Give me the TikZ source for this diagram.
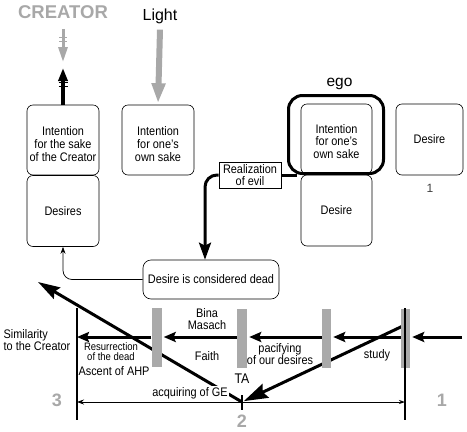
\documentclass[tikz,border=0pt]{standalone}
\usepackage{fontspec}
\setmainfont{Liberation Sans}[FakeStretch=0.88]
\newfontfamily\widefont{Liberation Sans}
\usetikzlibrary{arrows.meta,calc}
\definecolor{barg}{HTML}{AAAAAA}
\definecolor{numg}{HTML}{A8A8A8}
\newcommand\fsm{\fontsize{12.4}{12.7}\selectfont}
\newcommand\fsx{\fontsize{10.8}{10.2}\selectfont}
\begin{document}
\begin{tikzpicture}[x=1pt,y=-1pt,
  box/.style={draw,rounded corners=6,line width=0.6,minimum width=72,minimum height=70,align=center,font=\fsm,inner sep=0},
  bar/.style={fill=barg,minimum width=10,minimum height=59,inner sep=0},
  lbl/.style={font=\fsm,align=center,inner sep=0},
  slbl/.style={font=\fsx,align=center,inner sep=0},
  num/.style={font=\widefont\fontsize{18}{20}\selectfont\bfseries,text=numg,inner sep=0},
  thick arrow/.style={line width=3,-{Stealth[length=12,width=10,inset=2]}},
  tick/.style={line width=0.8}]
\useasboundingbox (0,0) rectangle (467,432);

% top labels
\node[font=\widefont\fontsize{18.5}{20}\selectfont\bfseries,text=numg,inner sep=0] (creator) at (63,12) {CREATOR};
\node[font=\widefont\fontsize{16}{18}\selectfont,inner sep=0] (light) at (160,16) {Light};

% boxes
\node[box,label={[lbl,yshift=-4pt]center:Intention\\for the sake\\of the Creator}] (int1) at (63,140) {};
\node[box,minimum height=71] (des1) at (63,211) {Desires};
\node[box,label={[lbl,yshift=-4pt]center:Intention\\for one's\\own sake}] (int2) at (158,140) {};
\node[box,minimum width=71,label={[lbl,yshift=-2.5pt]center:Intention\\for one's\\own sake}] (int3) at (336.5,139) {};
\node[box,minimum width=71,minimum height=71] (des3) at (336.5,210.5) {Desire};
\node[box,minimum width=67,minimum height=71] (des4) at (429.5,139.5) {Desire};
\node[font=\widefont\fontsize{12}{14}\selectfont,text=black!75,inner sep=0] (one) at (430,188) {1};
\node[draw,line width=3,rounded corners=14,minimum width=95,minimum height=78,inner sep=0] (ego) at (336,134.5) {};
\node[font=\widefont\fontsize{15.5}{17}\selectfont,inner sep=0] (egot) at (339.5,84) {ego};
\node[draw,line width=0.6,minimum width=62,minimum height=26,align=center,font=\fontsize{12.4}{11.8}\selectfont,inner sep=0] (real) at (250,175) {Realization\\of evil};
\node[box,minimum width=136,minimum height=39,rounded corners=8] (dead) at (211,279.5) {Desire is considered dead};

% top arrows
\coordinate (ctip) at (63,62);
\coordinate (btip) at (63,68);
\draw[line width=3,numg,-{Triangle[length=15,width=9]}] (creator.south) ++(0,10) -- (ctip);
\draw[tick,numg] (59,37) -- (67,37) (59,41) -- (67,41);
\draw[line width=3.5,-{Triangle[length=13,width=9]}] (int1.north) -- (btip);
\draw[tick] (58.5,82) -- (67.5,82) (58.5,86.5) -- (67.5,86.5);
\draw[line width=6,numg,-{Triangle[length=20,width=13]},shorten >=1.5] (light.south) ++(0,6) -- (int2.north);

% middle connectors
\draw[line width=3] (real.east) -- ($(real.east)+(16,0)$);
\draw[line width=3,rounded corners=12,-{Stealth[length=17,width=12,inset=3]}] (real.west) -| ($(dead.north)+(-6,0)$);
\draw[line width=0.7,rounded corners=9,-{Stealth[length=7,width=5]}] (dead.west) -| (des1.south);

% bottom section
\coordinate (Lt) at (77,308);
\coordinate (Lb) at (77,420);
\coordinate (Rt) at (405,308);
\coordinate (Rb) at (405,420);
\coordinate (Lm) at (77,337);
\coordinate (Rin) at (462,337);
\coordinate (L2) at (77,402);
\coordinate (R2) at (405,402);
\coordinate (two) at (242,402);
\coordinate (stS) at (405,325);
\coordinate (slT) at (38,282);

\draw[line width=3,-{Stealth[length=22,width=13,inset=3]}] (two) -- (slT);
\draw[line width=3,-{Stealth[length=24,width=15,inset=3]},shorten >=2] (stS) -- (two);

\node[bar] (bar1) at (156.5,337.5) {};
\node[bar] (bar2) at (242,338.5) {};
\node[bar,minimum width=9] (bar3) at (326.5,338.5) {};
\node[bar,minimum width=9] (bar4) at (405.5,338.5) {};

\draw[line width=1.2] (Lt) -- (Lb);
\draw[line width=1.2] (Rt) -- (Rb);

\draw[thick arrow,shorten >=2] (Rin) -- (Rin -| bar4.east);
\draw[thick arrow,shorten >=2] (bar4.west |- Rin) -- (Rin -| bar3.east);
\draw[thick arrow,shorten >=2] (bar3.west |- Rin) -- (Rin -| bar2.east);
\draw[thick arrow,shorten >=2] (bar2.west |- Rin) -- (Rin -| bar1.east);
\draw[thick arrow] (bar1.west |- Rin) -- (Lm);

\draw[line width=0.8,{Stealth[length=7,width=5]}-{Stealth[length=6,width=4]}] (L2) -- (R2);
\draw[line width=2] (242,395) -- (242,410);

% labels
\node[lbl,align=left] (sim) at (37,340) {Similarity\\to the Creator};
\node[slbl] (res) at (111,352) {Resurrection\\of the dead};
\node[lbl] (ahp) at (114,371) {Ascent of AHP};
\node[lbl] (bina) at (207,319) {Bina\\Masach};
\node[lbl] (faith) at (207,356) {Faith};
\node[font=\fontsize{14}{15}\selectfont,inner sep=0] (ta) at (242,379) {TA};
\node[lbl] (paci) at (280,354) {pacifying\\of our desires};
\node[lbl] (study) at (377,355) {study};
\node[lbl,fill=white,inner sep=1.5] (acq) at (190,393) {acquiring of GE};
\node[num] (n3) at (57,400) {3};
\node[num] (n2) at (242,421) {2};
\node[num] (n1) at (442,400) {1};
\end{tikzpicture}
\end{document}
